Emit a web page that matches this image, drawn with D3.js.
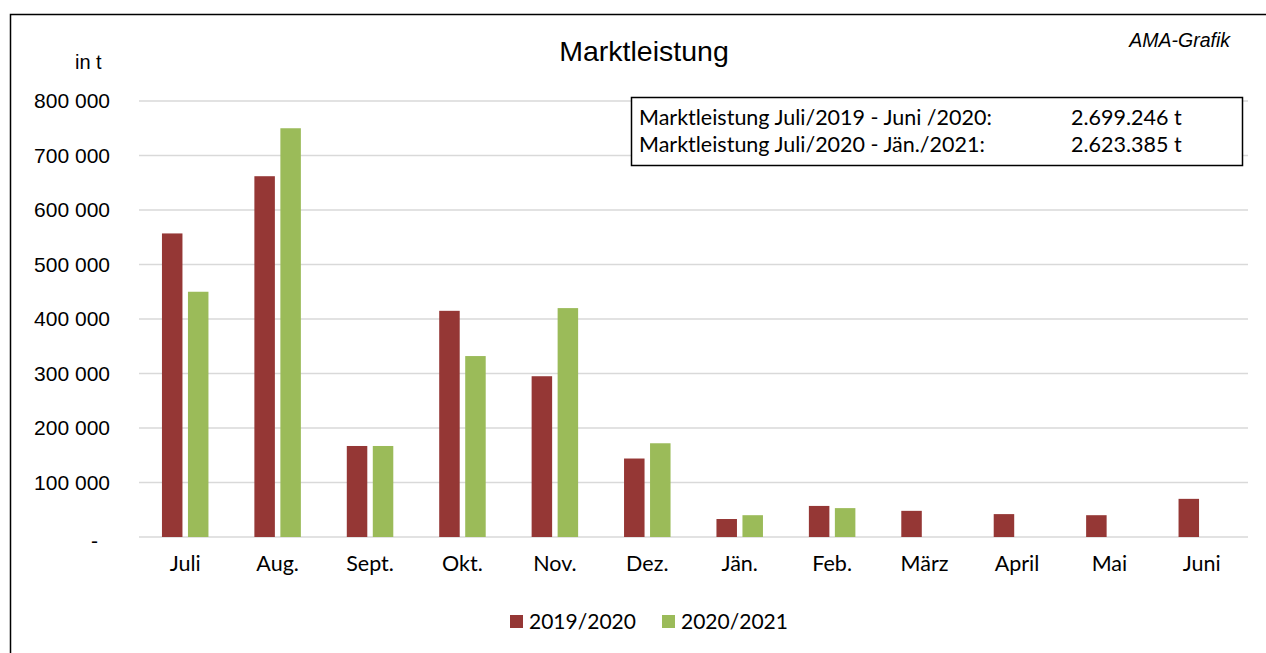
<!DOCTYPE html>
<html>
<head>
<meta charset="utf-8">
<script src="https://cdn.jsdelivr.net/npm/d3@7"></script>
<style>
  body { margin: 0; background: #fff; }
  svg { display: block; }
  .ytick text { font-family: "Liberation Sans", Arial, sans-serif; font-size: 21px; fill: #000; }
  .xtick text { font-family: Lato, "Open Sans", sans-serif; font-size: 21.5px; fill: #000; }
</style>
</head>
<body>
<script>
var w = 1266;
var h = 653;

// Data
var months = ["Juli", "Aug.", "Sept.", "Okt.", "Nov.", "Dez.", "Jän.", "Feb.", "März", "April", "Mai", "Juni"];
var series = ["2019/2020", "2020/2021"];
var values1920 = [557000, 662000, 167000, 415000, 295000, 144000, 33000, 57000, 48000, 42000, 40000, 70000];
var values2021 = [450000, 750000, 167000, 332000, 420000, 172000, 40000, 53000, null, null, null, null];
var yTicks = [0, 100000, 200000, 300000, 400000, 500000, 600000, 700000, 800000];
var boxLines = [
	["Marktleistung Juli/2019 - Juni /2020:", "2.699.246 t"],
	["Marktleistung Juli/2020 - Jän./2021:", "2.623.385 t"]
];
var colors = ["#953735", "#9bbb59"];

var plotLeft = 139, plotRight = 1248, plotTop = 101, plotBottom = 537;

var svg = d3.select("body")
	.append("svg")
	.attr("width", w)
	.attr("height", h);

//Outer frame
svg.append("rect")
	.attr("x", 10.5)
	.attr("y", 14.5)
	.attr("width", 1300)
	.attr("height", 700)
	.attr("fill", "none")
	.attr("stroke", "#000")
	.attr("stroke-width", 1.5);

//Scales
var xScale = d3.scaleBand()
	.domain(months)
	.range([plotLeft, plotRight]);
var yScale = d3.scaleLinear()
	.domain([0, 800000])
	.range([plotBottom, plotTop]);

//Gridlines
svg.append("g")
	.selectAll("line")
	.data(yTicks)
	.enter()
	.append("line")
	.attr("x1", plotLeft)
	.attr("x2", plotRight)
	.attr("y1", function(d) { return yScale(d); })
	.attr("y2", function(d) { return yScale(d); })
	.attr("stroke", "#d9d9d9")
	.attr("stroke-width", 1.5);

//Y axis labels
var fmt = function(d) {
	if (d === 0) return "-";
	return d3.format(",")(d).replace(/,/g, " ");
};
var yAxis = d3.axisLeft(yScale)
	.tickValues(yTicks)
	.tickSize(0)
	.tickPadding(0)
	.tickFormat(fmt);
svg.append("g")
	.attr("class", "ytick")
	.attr("transform", "translate(110,0)")
	.call(yAxis)
	.call(function(g) { g.select(".domain").remove(); })
	.selectAll("text")
	.attr("dx", function(d) { return d === 0 ? -12 : 0; })
	.attr("dy", function(d) { return d === 0 ? "0.5em" : "0.32em"; });

//X axis labels
var xAxis = d3.axisBottom(xScale)
	.tickSize(0)
	.tickPadding(0);
svg.append("g")
	.attr("class", "xtick")
	.attr("transform", "translate(0," + (plotBottom + 19) + ")")
	.call(xAxis)
	.call(function(g) { g.select(".domain").remove(); });

//Bars
var barW = 20.5, gap = 5.5;
var groups = [values1920, values2021];
groups.forEach(function(vals, si) {
	svg.append("g")
		.selectAll("rect")
		.data(vals.map(function(v, i) { return { m: months[i], v: v }; }).filter(function(d) { return d.v != null; }))
		.enter()
		.append("rect")
		.attr("x", function(d) {
			var c = xScale(d.m) + xScale.bandwidth() / 2;
			return si === 0 ? c - gap / 2 - barW : c + gap / 2;
		})
		.attr("y", function(d) { return yScale(d.v); })
		.attr("width", barW)
		.attr("height", function(d) { return plotBottom - yScale(d.v); })
		.attr("fill", colors[si]);
});

//Title
svg.append("text")
	.attr("x", 644)
	.attr("y", 61)
	.attr("text-anchor", "middle")
	.style("font-family", "'Liberation Sans', Arial, sans-serif")
	.style("font-size", "28.5px")
	.text("Marktleistung");

svg.append("text")
	.attr("x", 1230)
	.attr("y", 47)
	.attr("text-anchor", "end")
	.style("font-family", "'Liberation Sans', Arial, sans-serif")
	.style("font-size", "19.5px")
	.style("font-style", "italic")
	.text("AMA-Grafik");

svg.append("text")
	.attr("x", 75)
	.attr("y", 69)
	.style("font-family", "'Liberation Sans', Arial, sans-serif")
	.style("font-size", "20px")
	.text("in t");

//Info box
svg.append("rect")
	.attr("x", 631.5)
	.attr("y", 97.5)
	.attr("width", 611)
	.attr("height", 68)
	.attr("fill", "#fff")
	.attr("stroke", "#000")
	.attr("stroke-width", 1.5);
boxLines.forEach(function(l, i) {
	svg.append("text")
		.attr("x", 639)
		.attr("y", 125 + i * 27)
		.style("font-family", "Lato, 'Open Sans', sans-serif")
		.style("font-size", "21.5px")
		.text(l[0]);
	svg.append("text")
		.attr("x", 1071)
		.attr("y", 125 + i * 27)
		.style("font-family", "Lato, 'Open Sans', sans-serif")
		.style("font-size", "21.5px")
		.text(l[1]);
});

//Legend
var legX = [510, 662];
series.forEach(function(s, i) {
	svg.append("rect")
		.attr("x", legX[i])
		.attr("y", 615)
		.attr("width", 13)
		.attr("height", 13)
		.attr("fill", colors[i]);
	svg.append("text")
		.attr("x", legX[i] + 19)
		.attr("y", 629)
		.style("font-family", "Lato, 'Open Sans', sans-serif")
		.style("font-size", "21px")
		.text(s);
});
</script>
</body>
</html>
